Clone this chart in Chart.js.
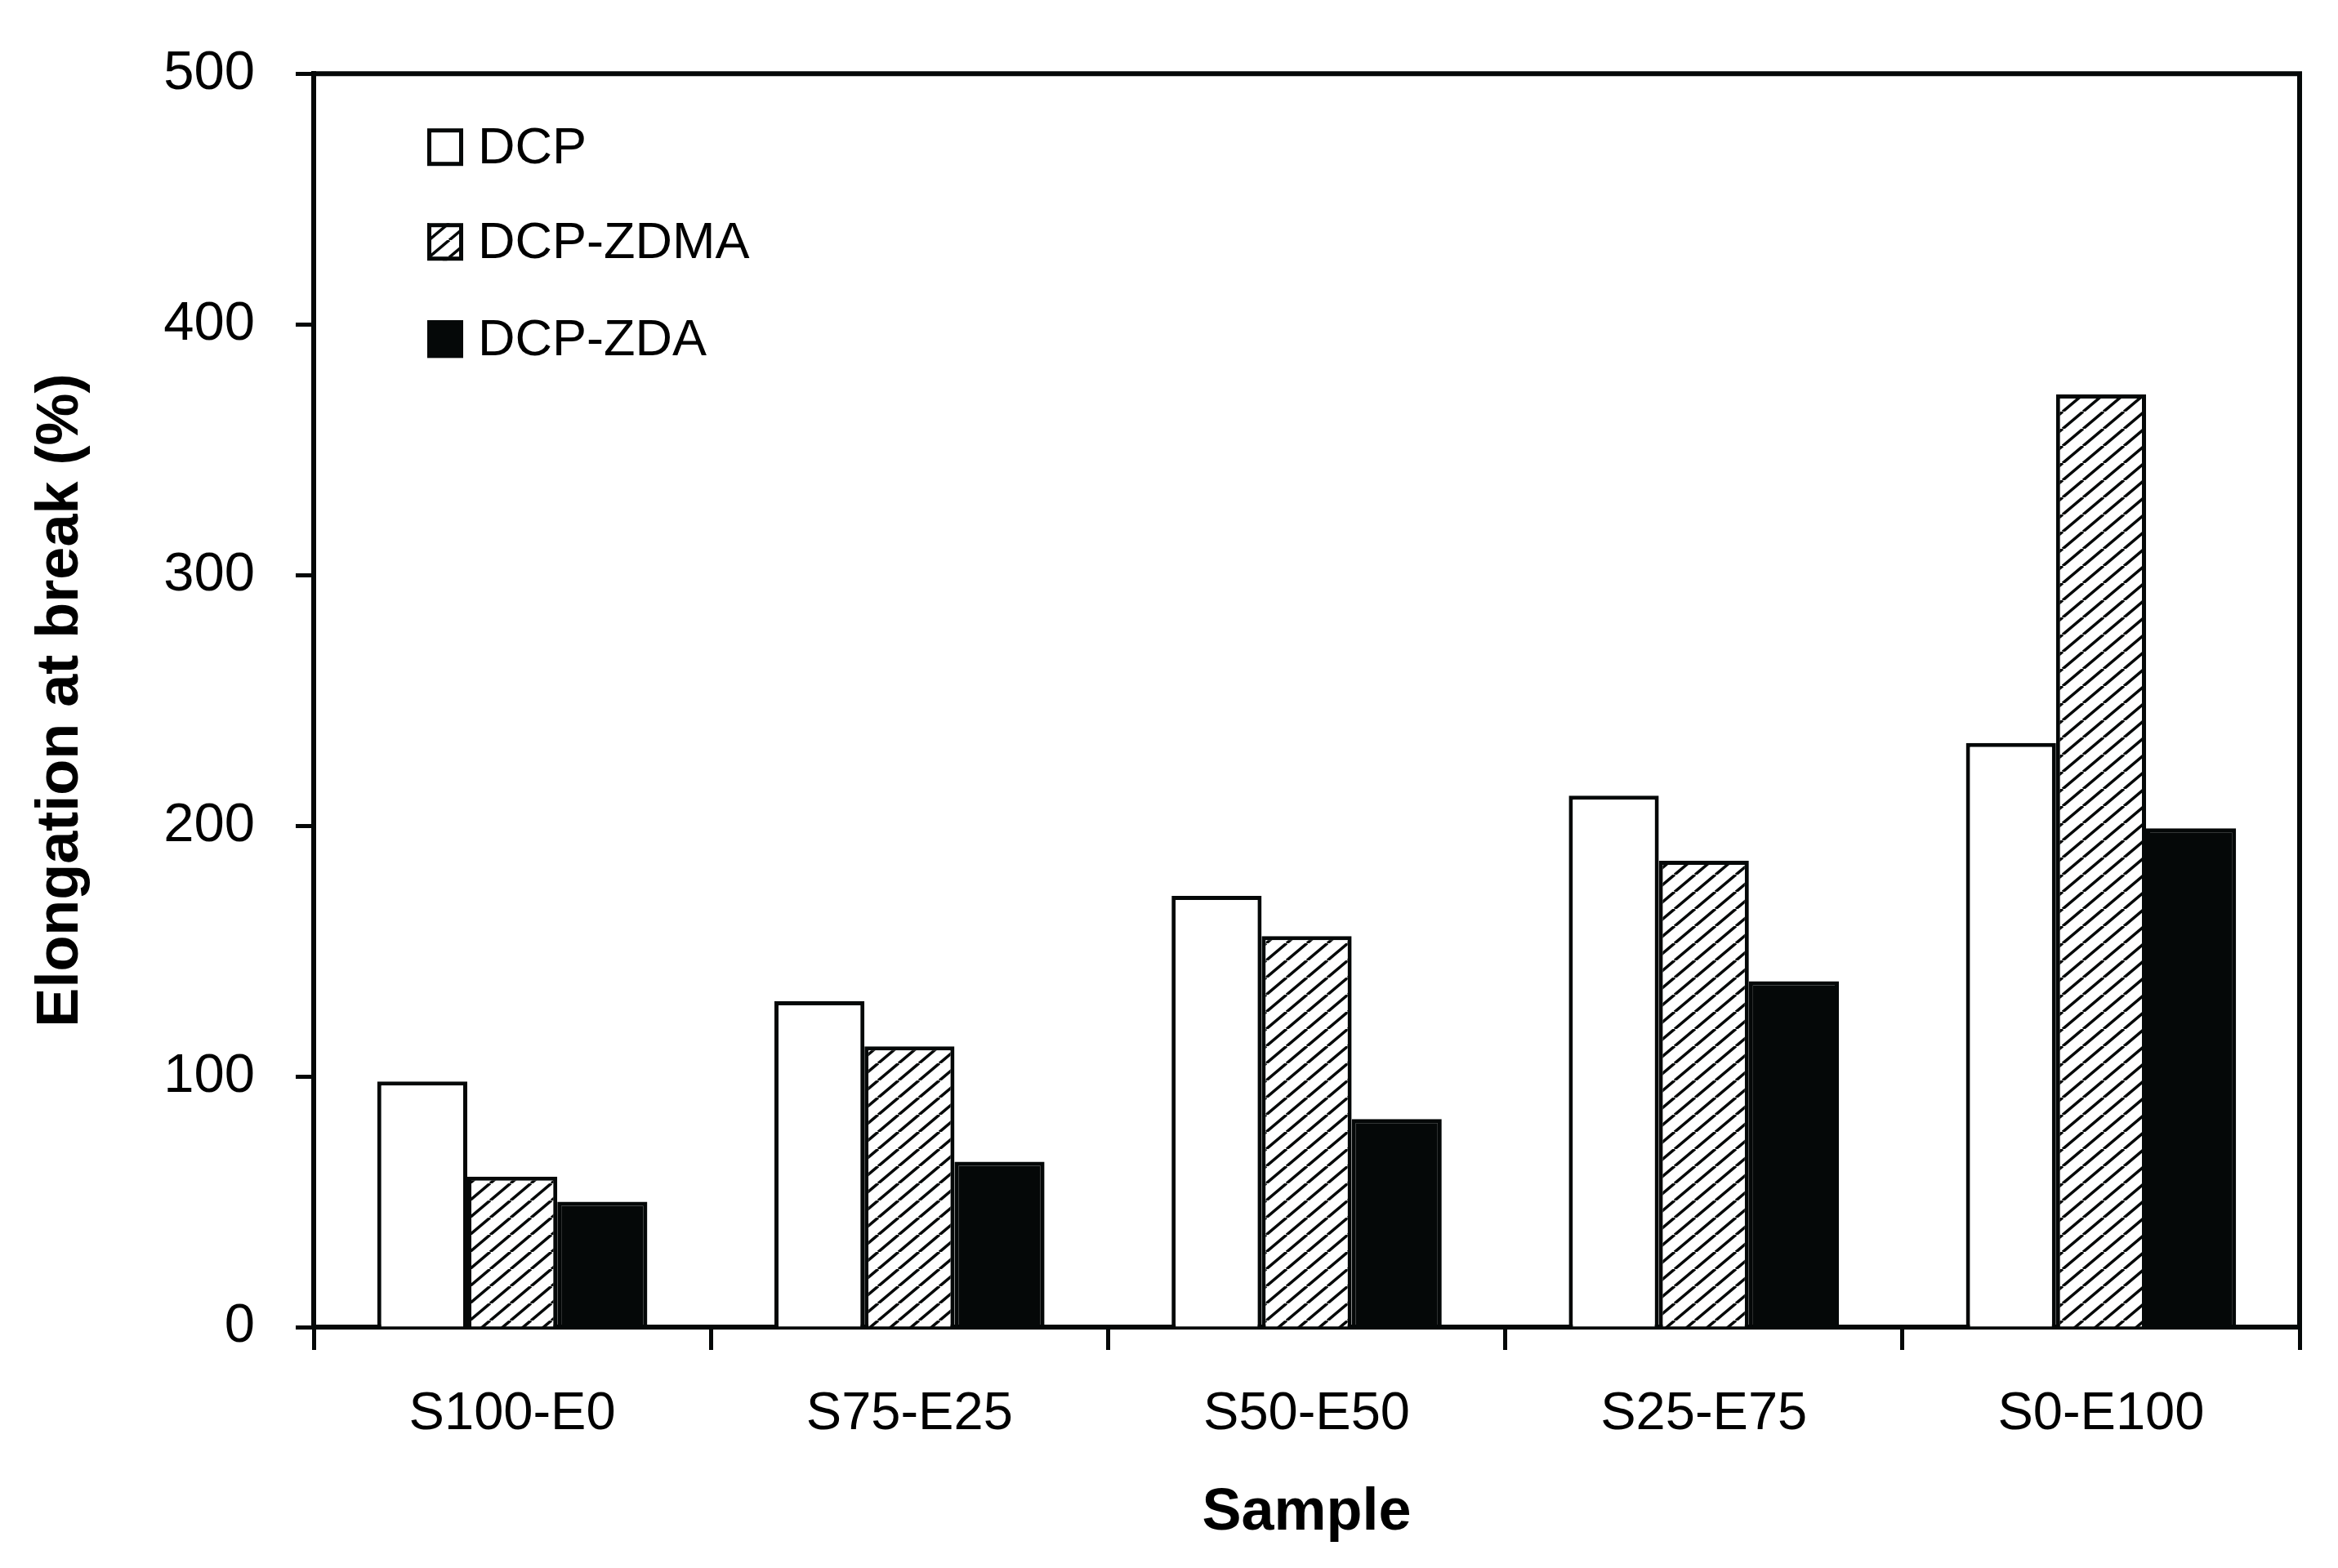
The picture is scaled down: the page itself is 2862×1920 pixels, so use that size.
<!DOCTYPE html>
<html>
<head>
<meta charset="utf-8">
<script src="https://cdn.jsdelivr.net/npm/chart.js@4.4.1/dist/chart.umd.min.js"></script>
<style>
  html, body { margin: 0; padding: 0; background: #fff; }
  #wrap { width: 2862px; height: 1920px; }
</style>
</head>
<body>
<div id="wrap"><canvas id="c" width="2862" height="1920"></canvas></div>
<script>
// ---- data ----
const categories = ['S100-E0', 'S75-E25', 'S50-E50', 'S25-E75', 'S0-E100'];
const seriesNames = ['DCP', 'DCP-ZDMA', 'DCP-ZDA'];
const dcp = [98, 130, 172, 212, 233];
const dcpZdma = [60, 112, 156, 186, 372];
const dcpZda = [50, 66, 83, 138, 199];
const yTicks = [0, 100, 200, 300, 400, 500];
const yTitle = 'Elongation at break (%)';
const xTitle = 'Sample';

// ---- hatch pattern ----
function makeHatch() {
  const W = 25, H = 21;
  const cv = document.createElement('canvas');
  cv.width = W; cv.height = H;
  const g = cv.getContext('2d');
  g.fillStyle = '#fff';
  g.fillRect(0, 0, W, H);
  g.strokeStyle = '#050808';
  g.lineWidth = 3.6;
  g.lineCap = 'butt';
  [-W, 0, W].forEach((dx) => {
    g.beginPath();
    g.moveTo(dx, H);
    g.lineTo(dx + W, 0);
    g.stroke();
  });
  return g.createPattern(cv, 'repeat');
}
const hatch = makeHatch();
const black = '#050808';

const fills = ['#ffffff', hatch, black];
const values = [dcp, dcpZdma, dcpZda];

const framePlugin = {
  id: 'frame',
  afterDraw(chart) {
    const { ctx, chartArea: a } = chart;
    ctx.save();
    ctx.strokeStyle = black;
    ctx.lineWidth = 6;
    ctx.beginPath();
    ctx.moveTo(a.left - 3, a.top);
    ctx.lineTo(a.right, a.top);
    ctx.lineTo(a.right, a.bottom + 3);
    ctx.stroke();
    ctx.restore();
  }
};

const legendPlugin = {
  id: 'insideLegend',
  afterDraw(chart) {
    const { ctx, chartArea: a } = chart;
    const x0 = a.left + 139;
    const rows = [a.top + 90, a.top + 206, a.top + 325];
    const bw = 44, bh = 46;
    ctx.save();
    chart.data.datasets.forEach((ds, i) => {
      const cy = rows[i];
      ctx.fillStyle = ds.backgroundColor;
      ctx.fillRect(x0, cy - bh / 2, bw, bh);
      ctx.strokeStyle = black;
      ctx.lineWidth = 5;
      ctx.strokeRect(x0 + 2.5, cy - bh / 2 + 2.5, bw - 5, bh - 5);
      ctx.fillStyle = '#000';
      ctx.font = '63px "Liberation Sans", Arial, sans-serif';
      ctx.textBaseline = 'middle';
      ctx.textAlign = 'left';
      ctx.fillText(ds.label, x0 + bw + 18, cy + 2);
    });
    ctx.restore();
  }
};

new Chart(document.getElementById('c'), {
  type: 'bar',
  data: {
    labels: categories,
    datasets: seriesNames.map((name, i) => ({
      label: name,
      data: values[i],
      backgroundColor: fills[i],
      borderColor: black,
      borderWidth: 5,
      borderSkipped: 'start',
      barPercentage: 1.0,
      categoryPercentage: 0.68
    }))
  },
  options: {
    responsive: false,
    devicePixelRatio: 1,
    animation: false,
    layout: { padding: { left: 0, right: 47, top: 69, bottom: 0 } },
    plugins: {
      legend: { display: false },
      tooltip: { enabled: false },
      title: { display: false }
    },
    scales: {
      x: {
        type: 'category',
        afterFit(s) { s.height = 295; },
        grid: {
          offset: true,
          drawOnChartArea: false,
          drawTicks: true,
          tickLength: 28,
          tickWidth: 5,
          tickColor: black,
          color: black
        },
        border: { display: true, color: black, width: 6 },
        ticks: {
          color: '#000',
          padding: 40,
          font: { family: '"Liberation Sans", Arial, sans-serif', size: 65 }
        },
        title: {
          display: true,
          text: xTitle,
          color: '#000',
          padding: { top: 0, bottom: 24 },
          font: { family: '"Liberation Sans", Arial, sans-serif', size: 72, weight: 'bold' }
        }
      },
      y: {
        min: 0,
        max: 500,
        afterFit(s) { s.width = 384; },
        afterBuildTicks(s) { s.ticks = yTicks.map(v => ({ value: v })); },
        grid: {
          drawOnChartArea: false,
          drawTicks: true,
          tickLength: 22,
          tickWidth: 5,
          tickColor: black,
          color: black
        },
        border: { display: true, color: black, width: 6 },
        ticks: {
          color: '#000',
          padding: 50,
          font: { family: '"Liberation Sans", Arial, sans-serif', size: 67 }
        },
        title: {
          display: true,
          text: yTitle,
          color: '#000',
          padding: { top: 32, bottom: 0 },
          font: { family: '"Liberation Sans", Arial, sans-serif', size: 72, weight: 'bold' }
        }
      }
    }
  },
  plugins: [framePlugin, legendPlugin]
});
</script>
</body>
</html>
